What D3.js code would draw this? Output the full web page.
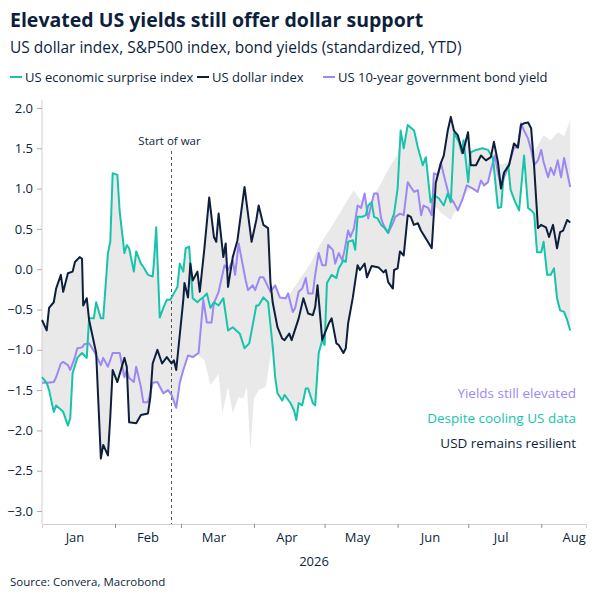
<!DOCTYPE html>
<html>
<head>
<meta charset="utf-8">
<script src="https://cdn.jsdelivr.net/npm/d3@7"></script>
<style>
  body { margin: 0; background: #fff; }
  svg text { font-family: "Open Sans", "Noto Sans", sans-serif; fill: #0d1f3c; }
</style>
</head>
<body>
<div id="chart"></div>
<script>
// days since 1 Jan 2026, standardized value
var surprise = [[0,-1.34],[2,-1.41],[3,-1.50],[5,-1.77],[6,-1.69],[9,-1.77],[11,-1.94],[12,-1.85],[13,-1.29],[15,-1.10],[17,-1.04],[19,-1.10],[20,-0.61],[22,-0.61],[23,-0.41],[25,-0.61],[26,-0.61],[28,0.20],[29,0.34],[30,1.19],[32,1.17],[33,0.71],[35,0.20],[36,0.30],[37,0.26],[39,-0.03],[40,0.22],[42,0.07],[43,0.03],[45,-0.07],[47,-0.09],[47.5,0.07],[48.5,0.52],[50,-0.60],[51.5,-0.48],[53,-0.38],[54.5,-0.38],[56,-0.30],[57.5,-0.22],[58.5,0.07],[60,-0.03],[61,0.26],[62.5,0.28],[64,-0.36],[66,-0.41],[67,-0.38],[68.5,-0.35],[70,-0.30],[71.5,-0.48],[73,-0.41],[75,-0.45],[77,-0.36],[79,-0.76],[81,-0.72],[84,-0.80],[86,-0.98],[88,-0.92],[90,-0.61],[91,-0.45],[92,-0.45],[94,-0.35],[96,-0.41],[98,-0.97],[99,-1.34],[100,-1.54],[102,-1.63],[103,-1.56],[105.5,-1.66],[107,-1.75],[108,-1.87],[109,-1.66],[110.5,-1.69],[112,-1.48],[113,-1.48],[115,-1.66],[116,-1.69],[117.5,-1.04],[119,-0.88],[120,-0.94],[121,-0.17],[123,-0.07],[125,-0.11],[126,0.01],[128,0.11],[129,0.09],[130,0.34],[132,0.36],[133,0.24],[134,0.65],[136,0.65],[137.5,0.67],[138.5,0.79],[140,0.83],[141,0.65],[142.5,0.63],[144,0.55],[145.5,0.51],[147,0.45],[148.5,0.61],[149.5,0.69],[151,1.00],[152.3,1.72],[153.6,1.50],[155.3,1.79],[158,1.72],[159.6,1.51],[161.7,1.29],[163,1.39],[165,0.83],[166.4,0.92],[168.5,0.88],[170.6,0.79],[172.3,0.94],[173.6,0.83],[175,1.69],[177,1.58],[178.3,1.44],[179,1.60],[181,1.08],[182,1.45],[184.3,1.48],[187,1.50],[189.4,1.48],[191.5,1.38],[193.6,0.76],[195,0.77],[196,1.17],[198,1.29],[199,0.98],[201,0.83],[202.6,0.73],[204.7,1.41],[206.4,0.76],[207.7,0.73],[209,0.69],[210.2,0.21],[212,0.21],[213,0.34],[214.5,-0.07],[216,-0.07],[217.4,0.01],[218.7,-0.36],[220,-0.51],[221.7,-0.53],[223,-0.63],[224.3,-0.76]];

var dollar = [[0,-0.63],[2,-0.76],[3,-0.48],[5,-0.41],[6,-0.24],[8,-0.07],[9,-0.28],[11,-0.05],[13,-0.03],[14,0.09],[16,0.15],[17,0.13],[17.5,-0.45],[19,-0.36],[20,-0.63],[23,-1.04],[25,-2.35],[26,-2.18],[28,-2.31],[29,-1.83],[30,-1.25],[32,-1.40],[35,-1.10],[36,-1.21],[37,-1.90],[40,-1.91],[42,-1.81],[45,-1.79],[46,-1.59],[47,-1.17],[49,-1.00],[51,-1.17],[53,-1.09],[55,-1.17],[56,-1.13],[57,-1.25],[60,-0.38],[60.5,-0.17],[62,-0.35],[63,0.07],[64,-0.14],[66,-0.03],[67,-0.28],[69,0.27],[71,0.89],[73,0.40],[74,0.34],[75,0.69],[77,0.15],[78,0.32],[79,-0.22],[81,0.15],[83,0.36],[86,1.02],[89,0.34],[91,0.61],[92,0.79],[94,0.55],[96,0.51],[97,-0.16],[98,-0.42],[100,-0.72],[102,-0.86],[103,-0.88],[105,-0.80],[106,-0.88],[109,-0.61],[111,-0.36],[113,-0.55],[115,-0.57],[116,-0.47],[117,-0.20],[119,-0.88],[120,-0.80],[122,-0.66],[123,-0.61],[125,-0.92],[126,-0.94],[128,-1.04],[129,-0.98],[130,-0.67],[132,-0.35],[134,0.05],[135,-0.01],[137,0.07],[138,-0.10],[140,0.04],[143,0.02],[145,-0.04],[146,-0.01],[147,-0.16],[149,-0.24],[149.5,-0.01],[151,0.01],[152,0.22],[153.6,0.17],[155.3,0.67],[156.6,0.65],[157.9,0.55],[159.6,0.57],[160.9,0.48],[163,0.38],[165.5,0.26],[167.2,1.07],[169.4,1.32],[170.6,1.41],[172.3,1.72],[173.6,1.89],[174.9,1.72],[176.6,1.66],[178.7,1.44],[180.9,1.70],[182.1,1.29],[184.3,1.29],[186.4,1.41],[188.5,1.35],[190.6,1.39],[191.9,1.58],[193.6,1.33],[194.9,1.00],[196.2,1.20],[198.3,1.29],[200.4,1.56],[202.1,1.51],[203.4,1.79],[204.7,1.81],[206.4,1.82],[207.7,1.75],[208.9,1.31],[210.6,0.51],[211.9,0.55],[214,0.52],[215.3,0.40],[217,0.55],[218.7,0.26],[220,0.46],[221.3,0.48],[223,0.61],[224.3,0.58]];

var yields = [[0,-1.41],[2.5,-1.41],[5,-1.40],[6,-1.34],[8,-1.17],[9,-1.15],[11,-1.19],[12,-1.25],[14,-1.09],[15,-0.98],[17,-0.97],[18,-0.93],[20,-0.92],[22.5,-1.04],[25,-1.19],[26,-1.10],[28,-1.21],[30,-1.04],[33,-1.04],[35,-1.34],[36,-1.25],[37,-1.35],[39,-1.40],[40,-1.21],[42,-1.46],[43,-1.65],[45,-1.65],[46,-1.54],[47,-1.41],[49,-1.40],[51.5,-1.54],[53.5,-1.50],[55,-1.56],[57,-1.72],[58.5,-1.41],[60,-1.25],[62,-1.07],[64,-1.09],[66.5,-1.04],[68.5,-0.38],[70,-0.66],[72,-0.66],[73,-0.42],[75,-0.28],[77.5,0.05],[79,-0.01],[81,0.11],[82,-0.07],[83.5,0.32],[85,0.09],[86.5,-0.14],[87.5,-0.26],[89.5,-0.20],[90.5,-0.26],[92.5,-0.10],[94,-0.10],[96,-0.22],[97,-0.28],[99,-0.20],[101,-0.35],[103.5,-0.36],[104.5,-0.30],[106.5,-0.53],[107.5,-0.48],[109,-0.28],[110.5,-0.24],[112,-0.11],[113,-0.30],[115,-0.30],[116,-0.07],[117.5,0.20],[119,0.05],[120.5,0.05],[121.5,0.30],[123.5,0.24],[124.5,0.07],[126,0.20],[127.5,0.11],[128.5,0.24],[130,0.48],[131,0.40],[132.5,0.51],[134,0.79],[135.5,0.76],[137,0.94],[138.5,0.63],[139.5,0.76],[141,0.94],[142.5,0.94],[144,0.63],[145,0.55],[147,0.45],[149,0.57],[150,0.65],[152,0.69],[153.6,0.67],[155.3,1.08],[156.6,1.02],[158,0.96],[159.6,0.98],[161,0.67],[162,0.79],[164,0.76],[165.5,0.67],[166.4,1.19],[168,1.17],[169.4,1.32],[170.6,1.17],[172.8,0.92],[175,0.82],[176.6,0.73],[178.7,0.88],[180.4,1.04],[183,1.00],[185,0.96],[186.4,1.10],[187.7,1.04],[189.4,1.08],[190.6,1.23],[192.3,1.41],[193.6,1.20],[195,1.02],[196.2,1.14],[198.3,1.29],[200.4,1.51],[202,1.51],[203.4,1.81],[204.7,1.72],[206.4,1.62],[207.7,1.48],[209,1.29],[210.6,1.35],[212,1.48],[213,1.33],[214.9,1.14],[216,1.26],[217.4,1.17],[219,1.35],[220.4,1.14],[221.7,1.38],[223,1.20],[224.3,1.02]];

// S&P500 (drawn only as part of the shaded range)
var spx = [[0,-1.0],[25,-0.8],[46,-0.7],[59,-0.9],[69,-1.13],[71.5,-1.44],[75,-1.3],[76.6,-1.79],[79,-1.46],[81,-1.79],[83.4,-1.59],[85.5,-1.6],[87,-1.46],[88.5,-2.25],[90,-1.6],[92,-1.5],[95,-1.46],[97,-1.09],[103,-0.4],[110,-0.1],[114,0.07],[118,0.3],[125.5,0.65],[132.3,0.98],[138,0.75],[144,1.07],[148,1.29],[152.3,1.48],[154.5,1.23],[161,1.0],[169.4,0.7],[173.6,0.61],[178,0.9],[186.4,1.1],[195,1.3],[207.7,1.4],[213,1.66],[216,1.6],[219,1.7],[221.7,1.65],[224.3,1.85]];

var yTicks = [2.0, 1.5, 1.0, 0.5, 0.0, -0.5, -1.0, -1.5, -2.0, -2.5, -3.0];
var months = ["Jan","Feb","Mar","Apr","May","Jun","Jul","Aug"];
var warDay = 55;

var start = new Date(2026, 0, 1);
function dayDate(d) { return new Date(start.getTime() + d * 864e5); }

var svg = d3.select("#chart").append("svg").attr("width", 600).attr("height", 600);

var x = d3.scaleTime().domain([start, new Date(2026, 7, 20)]).range([42, 586]);
var y = d3.scaleLinear().domain([-3, 2]).range([511, 108]);

// shaded range: envelope of all four series on a daily grid
function interp(s, d) {
  var i = d3.bisector(function(p) { return p[0]; }).left(s, d);
  if (i <= 0) return s[0][1];
  if (i >= s.length) return s[s.length - 1][1];
  var a = s[i - 1], b = s[i];
  return a[1] + (b[1] - a[1]) * (d - a[0]) / (b[0] - a[0]);
}
var allS = [surprise, dollar, yields, spx];
var bandDays = d3.sort(d3.union(surprise.map(p => p[0]), dollar.map(p => p[0]), yields.map(p => p[0]), spx.map(p => p[0])));
var band = bandDays.map(function(d) {
  var v = allS.map(s => interp(s, d));
  return { d: d, lo: d3.min(v), hi: d3.max(v) };
});
svg.append("path").datum(band)
  .attr("fill", "#e9e9e9")
  .attr("d", d3.area().x(b => x(dayDate(b.d))).y0(b => y(b.lo)).y1(b => y(b.hi)));

// axes
var yAxis = svg.append("g").attr("transform", "translate(42,0)")
  .call(d3.axisLeft(y).tickValues(yTicks).tickFormat(d3.format(".1f")).tickSize(5).tickPadding(4));
yAxis.select(".domain").attr("stroke", "#d0d0d0").attr("d", "M0,100V524");
yAxis.selectAll(".tick line").attr("stroke", "#b0b0b0");
yAxis.selectAll("text").style("font-size", "13px").attr("fill", "#0d1f3c");

var monthStarts = d3.timeMonth.range(new Date(2026, 1, 1), new Date(2026, 7, 2));
var xAxis = svg.append("g").attr("transform", "translate(0,524)")
  .call(d3.axisBottom(x).tickValues(monthStarts).tickFormat("").tickSize(4));
xAxis.select(".domain").attr("stroke", "#d0d0d0");
xAxis.selectAll(".tick line").attr("stroke", "#909090");
svg.selectAll(".mlab").data(months).join("text")
  .attr("x", (m, i) => x(new Date(2026, i, 15)))
  .attr("y", 542).attr("text-anchor", "middle").style("font-size", "13px").text(m => m);
svg.append("text").attr("x", 314).attr("y", 566).attr("text-anchor", "middle").style("font-size", "13px").text("2026");

// start of war
svg.append("line").attr("x1", x(dayDate(warDay))).attr("x2", x(dayDate(warDay)))
  .attr("y1", 151).attr("y2", 524).attr("stroke", "#555").attr("stroke-dasharray", "3,3");
svg.append("text").attr("x", x(dayDate(warDay)) - 2).attr("y", 145).attr("text-anchor", "middle")
  .style("font-size", "11.5px").text("Start of war");

// lines
var line = d3.line().x(p => x(dayDate(p[0]))).y(p => y(p[1]));
var series = [
  { data: yields, color: "#9d88f3" },
  { data: surprise, color: "#17c4aa" },
  { data: dollar, color: "#0d1f3c" }
];
series.forEach(function(s) {
  svg.append("path").datum(s.data).attr("fill", "none").attr("stroke", s.color)
    .attr("stroke-width", 2).attr("stroke-linejoin", "round").attr("d", line);
});

// titles
svg.append("text").attr("x", 10).attr("y", 27).style("font-size", "19.5px").style("font-weight", "bold").text("Elevated US yields still offer dollar support");
svg.append("text").attr("x", 10).attr("y", 53).style("font-size", "15.5px").text("US dollar index, S&P500 index, bond yields (standardized, YTD)");

// legend
var legend = [
  { label: "US economic surprise index", color: "#17c4aa", x: 10 },
  { label: "US dollar index", color: "#0d1f3c", x: 197 },
  { label: "US 10-year government bond yield", color: "#9d88f3", x: 323 }
];
legend.forEach(function(l) {
  svg.append("line").attr("x1", l.x).attr("x2", l.x + 12).attr("y1", 77).attr("y2", 77)
    .attr("stroke", l.color).attr("stroke-width", 2);
  svg.append("text").attr("x", l.x + 15).attr("y", 82).style("font-size", "13px").text(l.label);
});

// annotations
var notes = [
  { t: "Yields still elevated", c: "#9d88f3", y: 398 },
  { t: "Despite cooling US data", c: "#17c4aa", y: 423 },
  { t: "USD remains resilient", c: "#0d1f3c", y: 448 }
];
notes.forEach(function(n) {
  svg.append("text").attr("x", 576).attr("y", n.y).attr("text-anchor", "end")
    .style("font-size", "13.5px").style("fill", n.c).text(n.t);
});

svg.append("text").attr("x", 10).attr("y", 586).style("font-size", "11.5px").text("Source: Convera, Macrobond");
</script>
</body>
</html>
